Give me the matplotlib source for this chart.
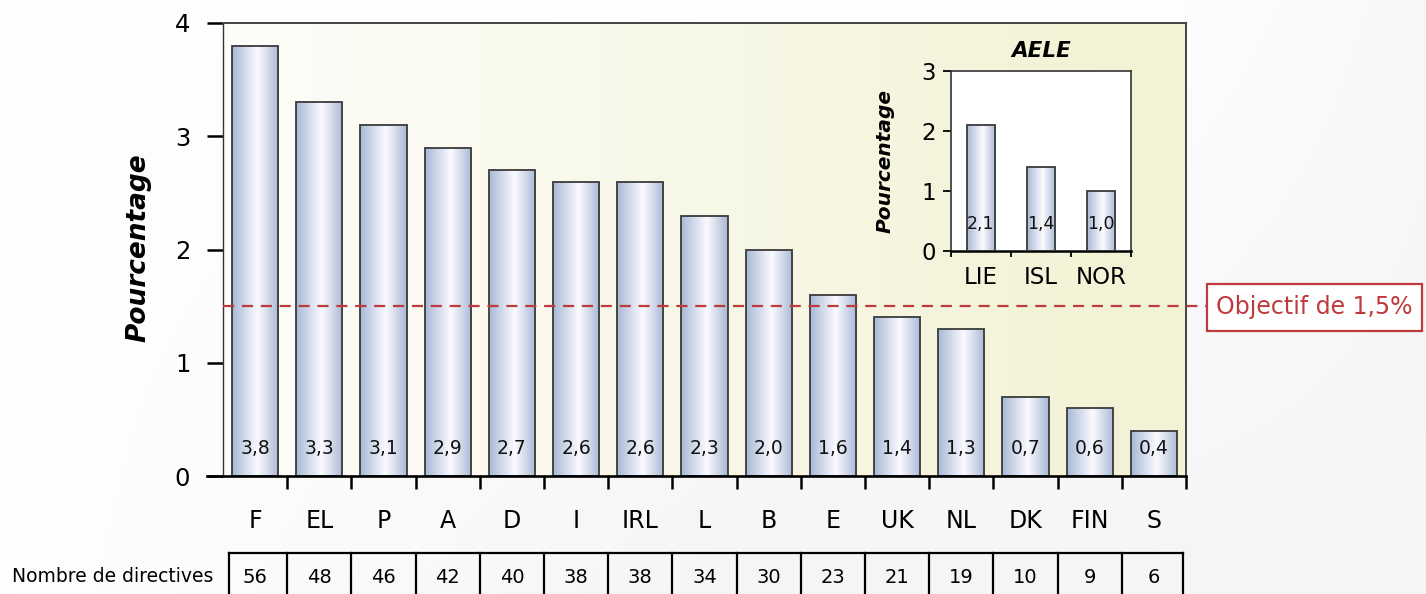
import numpy as np
import matplotlib
matplotlib.use('Agg')
import matplotlib.pyplot as plt
from matplotlib.colors import LinearSegmentedColormap
from matplotlib.patches import Rectangle
from matplotlib.lines import Line2D
import matplotlib.transforms as mtransforms

# ---------------- data ----------------
countries = ['F', 'EL', 'P', 'A', 'D', 'I', 'IRL', 'L', 'B', 'E', 'UK', 'NL', 'DK', 'FIN', 'S']
pourcentage = [3.8, 3.3, 3.1, 2.9, 2.7, 2.6, 2.6, 2.3, 2.0, 1.6, 1.4, 1.3, 0.7, 0.6, 0.4]
directives = [56, 48, 46, 42, 40, 38, 38, 34, 30, 23, 21, 19, 10, 9, 6]
aele_countries = ['LIE', 'ISL', 'NOR']
aele_values = [2.1, 1.4, 1.0]
objectif = 1.5
objectif_label = 'Objectif de 1,5%'
y_ticks_main = [0, 1, 2, 3, 4]
y_ticks_aele = [0, 1, 2, 3]
ylabel = 'Pourcentage'
aele_title = 'AELE'
table_label = 'Nombre de directives'


def fr(v):
    return f'{v:.1f}'.replace('.', ',')


plt.rcParams['font.family'] = ['DejaVu Sans']

W, H = 1426, 594
fig = plt.figure(figsize=(W / 100, H / 100), dpi=100)
fig.patch.set_facecolor('white')

# soft background
bg = fig.add_axes([0, 0, 1, 1], zorder=-10)
bg.set_axis_off()
yy, xx = np.mgrid[0:1:200j, 0:1:400j]
shade = 0.997 - 0.035 * yy * np.clip(xx * 2, 0, 1) - 0.025 * np.clip(xx - 0.8, 0, 1) * 5 * (1 - yy)
bg.imshow(np.dstack([shade, shade, shade]), extent=[0, 1, 0, 1], aspect='auto',
          origin='upper')
bg.set_xlim(0, 1)
bg.set_ylim(0, 1)

bar_cmap = LinearSegmentedColormap.from_list(
    'barg', [(0.0, '#a8b8d6'), (0.55, '#fbfbff'), (1.0, '#a9b8d5')])
bg_cmap = LinearSegmentedColormap.from_list('bgp', ['#fdfdfa', '#f2f2d4'])
grad = np.linspace(0, 1, 256)[None, :]


def gradient_bars(axis, bars):
    for rect in bars:
        x, w, h = rect.get_x(), rect.get_width(), rect.get_height()
        im = axis.imshow(grad, cmap=bar_cmap, extent=[x, x + w, 0, h],
                         aspect='auto', zorder=2, interpolation='bilinear')
        im.set_clip_path(rect)


# ---------------- main axes ----------------
ax = fig.add_axes([223 / W, 1 - 476 / H, (1186 - 223) / W, (476 - 23) / H])
ax.imshow(grad, cmap=bg_cmap, extent=[0, 1, 0, 1], transform=ax.transAxes,
          aspect='auto', zorder=0)
xpos = np.arange(len(countries))
bars = ax.bar(xpos, pourcentage, width=0.72, facecolor='none',
              edgecolor='#3a3a3a', linewidth=1.3, zorder=3)
gradient_bars(ax, bars)
for xi, v in zip(xpos, pourcentage):
    ax.text(xi, 0.24, fr(v), ha='center', va='center', fontsize=13.5,
            color='#111111', zorder=4)

ax.set_xlim(-0.5, len(countries) - 0.5)
ax.set_ylim(0, 4)
ax.set_yticks(y_ticks_main)
ax.set_yticklabels([str(t) for t in y_ticks_main])
ax.tick_params(axis='y', length=11.5, width=1.8, pad=12, labelsize=17.5,
               color='black')
ax.set_xticks(xpos)
ax.set_xticklabels(countries)
ax.tick_params(axis='x', which='major', length=0, pad=24, labelsize=17)
ax.set_xticks(np.arange(len(countries)) + 0.5, minor=True)
ax.tick_params(axis='x', which='minor', length=9, width=1.8, color='black')

for s in ['top', 'right']:
    ax.spines[s].set_color('#444444')
    ax.spines[s].set_linewidth(1.4)
ax.spines['left'].set_color('#333333')
ax.spines['left'].set_linewidth(1.0)
ax.spines['bottom'].set_visible(False)
# thick base line extending left to the tick marks
fig.add_artist(Line2D([207 / W, 1186 / W], [1 - 476 / H, 1 - 476 / H],
                      color='black', linewidth=1.9, transform=fig.transFigure))

ax.text(-0.088, 0.505, ylabel, transform=ax.transAxes, rotation=90,
        ha='center', va='center', fontsize=19, fontweight='bold',
        fontstyle='italic')

# objective line
trans = mtransforms.blended_transform_factory(ax.transAxes, ax.transData)
ax.plot([0, (1207 - 223) / (1186 - 223)], [objectif, objectif], transform=trans,
        color='#bf3a3c', linestyle=(0, (5, 3.5)), linewidth=1.6, clip_on=False,
        zorder=5)
fig.add_artist(Rectangle((1207 / W, 1 - 331 / H), (1422 - 1207) / W, 47 / H,
                         transform=fig.transFigure, facecolor='white',
                         edgecolor='#bf3a3c', linewidth=1.6))
fig.text(1314 / W, 1 - 307 / H, objectif_label, ha='center', va='center',
         fontsize=17, color='#bf3a3c')

# ---------------- table ----------------
tab = fig.add_axes([223 / W, 0, (1186 - 223) / W, (594 - 553) / H])
tab.set_xlim(-0.5, len(countries) - 0.5)
tab.set_ylim(0, 1)
tab.set_axis_off()
left_edge, right_edge = -0.41, len(countries) - 0.55
tab.plot([left_edge, right_edge], [1, 1], color='black', linewidth=1.6,
         clip_on=False)
for bx in [left_edge] + list(np.arange(len(countries) - 1) + 0.5) + [right_edge]:
    tab.plot([bx, bx], [-0.2, 1], color='black', linewidth=1.6, clip_on=False)
for xi, n in zip(xpos, directives):
    tab.text(xi, 0.4, str(n), ha='center', va='center', fontsize=14)
fig.text(213 / W, 1 - 577 / H, table_label, ha='right', va='center',
         fontsize=13.5)

# ---------------- inset (AELE) ----------------
iax = fig.add_axes([951 / W, 1 - 251 / H, 180 / W, 180 / H])
iax.set_facecolor('white')
ipos = np.arange(len(aele_countries))
ibars = iax.bar(ipos, aele_values, width=0.48, facecolor='none',
                edgecolor='#3a3a3a', linewidth=1.3, zorder=3)
gradient_bars(iax, ibars)
for xi, v in zip(ipos, aele_values):
    iax.text(xi, 0.45, fr(v), ha='center', va='center', fontsize=12.5,
             color='#111111', zorder=4)
iax.set_xlim(-0.5, len(aele_countries) - 0.5)
iax.set_ylim(0, 3)
iax.set_yticks(y_ticks_aele)
iax.set_yticklabels([str(t) for t in y_ticks_aele])
iax.tick_params(axis='y', length=6, width=1.3, pad=5, labelsize=16.5)
iax.set_xticks(ipos)
iax.set_xticklabels(aele_countries)
iax.tick_params(axis='x', which='major', length=0, pad=11, labelsize=16.5)
iax.set_xticks(np.arange(len(aele_countries) + 1) - 0.5, minor=True)
iax.tick_params(axis='x', which='minor', length=4, width=1.3)
for s in iax.spines.values():
    s.set_color('#333333')
    s.set_linewidth(1.2)
iax.spines['bottom'].set_linewidth(1.8)
iax.spines['bottom'].set_color('black')
iax.set_title(aele_title, fontsize=15.5, fontweight='bold', fontstyle='italic',
              pad=10)
iax.text(-0.367, 0.5, ylabel, transform=iax.transAxes, rotation=90,
         ha='center', va='center', fontsize=14.5, fontweight='bold',
         fontstyle='italic')

fig.savefig('out.png', dpi=100)
